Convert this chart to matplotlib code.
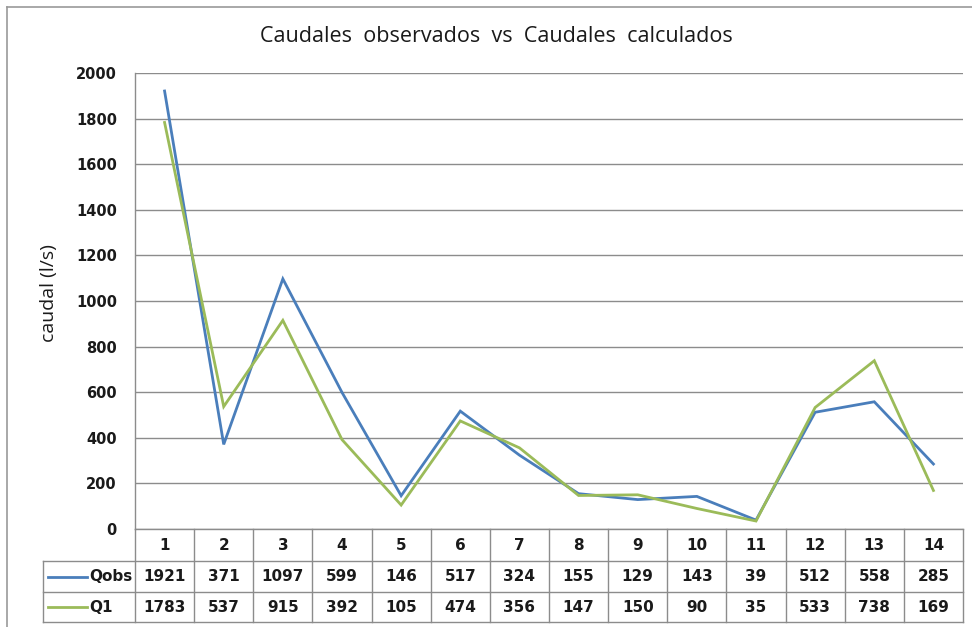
import matplotlib
matplotlib.use("Agg")
import matplotlib.pyplot as plt
from matplotlib.transforms import blended_transform_factory
from matplotlib.lines import Line2D

# datos del grafico
periodos = list(range(1, 15))
qobs = [1921, 371, 1097, 599, 146, 517, 324, 155, 129, 143, 39, 512, 558, 285]
q1 = [1783, 537, 915, 392, 105, 474, 356, 147, 150, 90, 35, 533, 738, 169]
series = [("Qobs", qobs, "#4A7EBB"), ("Q1", q1, "#9BBB59")]
yticks = list(range(0, 2001, 200))

W, H = 972, 627
grid_col = "#8C8C8C"

fig = plt.figure(figsize=(W / 100, H / 100), dpi=100)
fig.patch.set_facecolor("white")

# marco exterior del grafico (lado izquierdo y superior visibles)
fig.add_artist(Line2D([7 / W, 7 / W], [0, 1 - 7 / H], color="#9A9A9A", lw=1.2))
fig.add_artist(Line2D([7 / W, 1], [1 - 7 / H, 1 - 7 / H], color="#9A9A9A", lw=1.2))

left, right, top, bottom = 135, 963, 73, 529
ax = fig.add_axes([left / W, 1 - bottom / H, (right - left) / W, (bottom - top) / H])

for name, vals, col in series:
    ax.plot(periodos, vals, color=col, lw=2.0, solid_joinstyle="miter", zorder=3)

ax.set_xlim(0.5, 14.5)
ax.set_ylim(0, 2000)
ax.set_yticks(yticks)
ax.set_xticks([])
ax.tick_params(axis="y", length=0, pad=13, labelsize=10.5)
for lab in ax.get_yticklabels():
    lab.set_fontweight("bold")
    lab.set_color("#1A1A1A")
ax.grid(axis="y", color=grid_col, lw=1.0)
ax.set_axisbelow(True)
for s in ["top", "right"]:
    ax.spines[s].set_visible(False)
for s in ["left", "bottom"]:
    ax.spines[s].set_color(grid_col)
    ax.spines[s].set_linewidth(1.0)

fig.text(496 / W, 1 - 37 / H, "Caudales  observados  vs  Caudales  calculados",
         ha="center", va="center", fontsize=15.5, family="Open Sans", color="#1A1A1A")
fig.text(49 / W, 1 - 293 / H, "caudal (l/s)", rotation=90, ha="center", va="center",
         fontsize=14, family="Open Sans", color="#1A1A1A")

# tabla de datos bajo el eje
tr = blended_transform_factory(ax.transData, ax.transAxes)
ah = bottom - top
row_lines = [-(561 - bottom) / ah, -(592 - bottom) / ah, -(622 - bottom) / ah]
row_mid = [-(545 - bottom) / ah, -(576.5 - bottom) / ah, -(607 - bottom) / ah]
x_leg = 0.5 + (43 - left) / ((right - left) / 14)
lkw = dict(color=grid_col, lw=1.0, transform=tr, clip_on=False)

for i in range(15):
    ax.plot([0.5 + i, 0.5 + i], [0, row_lines[-1]], **lkw)
ax.plot([x_leg, x_leg], [row_lines[0], row_lines[-1]], **lkw)
for yl in row_lines:
    ax.plot([x_leg, 14.5], [yl, yl], **lkw)

tkw = dict(ha="center", va="center", transform=tr, fontsize=11,
           fontweight="bold", color="#1A1A1A", clip_on=False)
for p in periodos:
    ax.text(p, row_mid[0], str(p), **tkw)
for r, (name, vals, col) in enumerate(series):
    y = row_mid[r + 1]
    for p, v in zip(periodos, vals):
        ax.text(p, y, str(v), **tkw)
    ax.plot([x_leg + 0.085, x_leg + 0.745], [y, y], color=col, lw=2.0,
            transform=tr, clip_on=False)
    ax.text(x_leg + 0.78, y, name, ha="left", va="center", transform=tr,
            fontsize=11, fontweight="bold", color="#1A1A1A", clip_on=False)

fig.savefig("out.png", dpi=100)
